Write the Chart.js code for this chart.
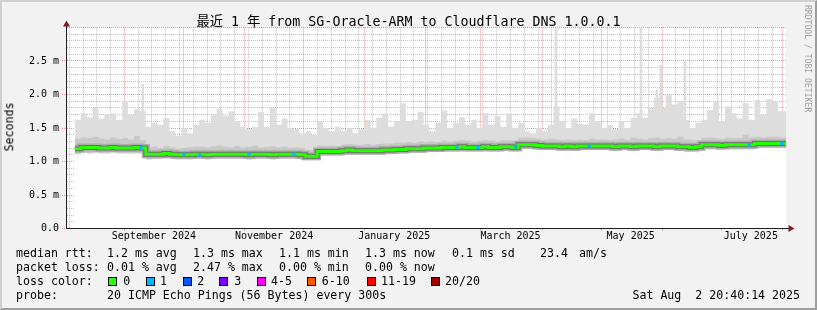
<!DOCTYPE html>
<html>
<head>
<meta charset="utf-8">
<script src="https://cdn.jsdelivr.net/npm/chart.js@4.4.1/dist/chart.umd.min.js"></script>
<style>
  html, body { margin: 0; padding: 0; background: #f2f2f2; }
  #wrap { position: relative; width: 817px; height: 310px; background: #f2f2f2; overflow: hidden;
          font-family: "DejaVu Sans Mono", monospace; color: #000; }
  #frame { position: absolute; left: 0; top: 0; width: 817px; height: 310px; box-sizing: border-box;
           border: 2px solid; border-color: #cfcfcf #9e9e9e #9e9e9e #cfcfcf; pointer-events: none; }
  canvas { position: absolute; left: 0; top: 0; }
  .t { position: absolute; white-space: pre; line-height: 1; font-size: 11.6px; }
  .box { position: absolute; top: 277px; width: 7px; height: 7px; border: 1px solid #000; }
  #title { position: absolute; left: 0; width: 817px; top: 14.8px; text-align: center; white-space: pre;
           font-size: 13.3px; line-height: 1; font-family: "DejaVu Sans Mono", "Noto Sans CJK SC", monospace; }
  #ylabel { position: absolute; left: 10px; top: 127px; font-size: 11.6px; line-height: 1; white-space: pre;
            transform: translate(-50%, -50%) rotate(-90deg); }
  #mark { position: absolute; left: 804px; top: 5px; font-size: 8.1px; line-height: 1; color: #a0a0a0;
          writing-mode: vertical-rl; white-space: pre; }
</style>
</head>
<body>
<div id="wrap">
  <canvas id="chart" width="817" height="310"></canvas>
  <div id="title">最近 1 年 from SG-Oracle-ARM to Cloudflare DNS 1.0.0.1</div>
  <div id="ylabel">Seconds</div>
  <div id="mark">RRDTOOL / TOBI OETIKER</div>
  <div id="legend"></div>
  <div id="frame"></div>
</div>
<script>
  // time axis: days after Sat Aug 2 2024 20:40:14 (one year window)
  var START = Date.UTC(2024, 7, 2, 20, 40, 14);
  var END = Date.UTC(2025, 7, 2, 20, 40, 14);
  var DAY = 86400000;

  // smoke data, one value per 3-day bin starting 4 days in (ms)
  var binStart = 4;
  var binWidth = 3;

  var maxRtt = [
    1.93, 1.62, 1.72, 1.66, 1.80, 1.64, 1.70, 1.72, 1.62, 1.90, 1.70, 1.78, 1.75,
    1.52, 1.58, 1.55, 1.65, 1.45, 1.38, 1.50, 1.42, 1.55, 1.62, 1.58, 1.70, 1.78, 1.68, 1.75, 1.60,
    1.52, 1.48, 1.52, 1.74, 1.52, 1.80, 1.55, 1.64, 1.50, 1.48, 1.42,
    1.45, 1.40, 1.60, 1.50, 1.45, 1.52, 1.45, 1.50, 1.42, 1.48, 1.62, 1.50, 1.65, 1.72, 1.52, 1.60,
    1.87, 1.60, 1.62, 1.74, 1.55, 1.45, 1.58, 1.76, 1.50, 1.58, 1.66, 1.55, 1.62, 1.50, 1.72, 1.55,
    1.68, 1.52, 1.72, 1.50, 1.58, 1.45, 1.42, 1.50, 1.45, 1.55, 1.82, 1.60, 1.50, 1.64, 1.56, 1.55,
    1.72, 1.60, 1.50, 1.55, 1.48, 1.60, 1.50, 1.65, 1.72, 1.65, 1.80, 1.95, 1.80, 1.99, 1.85, 1.90,
    1.62, 1.50, 1.58, 1.62, 1.77, 1.89, 1.60, 1.82, 1.72, 1.64, 1.87, 1.62, 1.92, 1.70, 1.93, 1.89, 1.75
  ];

  // narrow single-day peaks of the max ping (day, ms)
  var peakDays = [38.5, 248.2, 291.4, 299.5, 301.5, 313.7];
  var peakRtt = [2.15, 2.98, 3.00, 2.07, 2.44, 2.51];

  var upperRtt = [
    1.32, 1.34, 1.36, 1.35, 1.37, 1.34, 1.33, 1.36, 1.34, 1.35, 1.33, 1.38, 1.32,
    1.21, 1.22, 1.20, 1.23, 1.21, 1.19, 1.20, 1.21, 1.22, 1.22, 1.21, 1.23, 1.24, 1.22, 1.21, 1.23,
    1.21, 1.22, 1.24, 1.21, 1.22, 1.23, 1.21, 1.22, 1.20, 1.21, 1.20,
    1.17, 1.17,
    1.24, 1.23, 1.24, 1.23, 1.25,
    1.26, 1.25, 1.25, 1.26, 1.25, 1.26, 1.27, 1.27, 1.28,
    1.28, 1.29, 1.28, 1.30, 1.29, 1.30, 1.29,
    1.31, 1.30, 1.31, 1.32, 1.31, 1.30, 1.31, 1.32, 1.31, 1.30, 1.32, 1.32, 1.31,
    1.35, 1.36, 1.35, 1.34,
    1.33, 1.34, 1.33, 1.32, 1.33, 1.32, 1.33, 1.32, 1.34, 1.33,
    1.33, 1.32, 1.33, 1.34, 1.32, 1.36, 1.34, 1.33, 1.35, 1.36, 1.34, 1.35, 1.34, 1.37,
    1.33, 1.32, 1.32,
    1.35, 1.36, 1.35, 1.34, 1.36, 1.35, 1.35, 1.40, 1.36,
    1.37, 1.36, 1.37, 1.37, 1.36
  ];

  var medianRtt = [
    1.19, 1.19, 1.21, 1.21, 1.21, 1.20, 1.20, 1.21, 1.20, 1.20, 1.20, 1.21, 1.20,
    1.11, 1.11, 1.11, 1.12, 1.11, 1.10, 1.10, 1.10, 1.11, 1.11, 1.10, 1.11, 1.11, 1.11,
    1.11, 1.11, 1.11, 1.10, 1.11, 1.11, 1.11, 1.10, 1.11, 1.11, 1.11, 1.11, 1.10,
    1.08, 1.08,
    1.15, 1.15, 1.15, 1.15, 1.16,
    1.17, 1.16, 1.16, 1.16, 1.16, 1.16, 1.17, 1.17, 1.18,
    1.18, 1.19, 1.19, 1.19, 1.20, 1.20, 1.20,
    1.21, 1.21, 1.21, 1.22, 1.21, 1.21, 1.21, 1.22, 1.21, 1.21, 1.22, 1.22, 1.21,
    1.25, 1.25, 1.25, 1.24,
    1.23, 1.23, 1.23, 1.22, 1.23, 1.22, 1.23, 1.23, 1.23, 1.23,
    1.23, 1.23, 1.22, 1.23, 1.23, 1.22, 1.23, 1.23, 1.23, 1.22, 1.23, 1.23, 1.23, 1.22,
    1.22, 1.21, 1.22,
    1.25, 1.25, 1.25, 1.24, 1.25, 1.25, 1.25, 1.25, 1.25,
    1.27, 1.27, 1.27, 1.27, 1.27
  ];

  var minRtt = [
    1.11, 1.11, 1.13, 1.12, 1.13, 1.12, 1.12, 1.13, 1.12, 1.12, 1.12, 1.12, 1.12,
    1.03, 1.04, 1.04, 1.05, 1.04, 1.03, 1.03, 1.03, 1.04, 1.04, 1.03, 1.04, 1.04, 1.04,
    1.04, 1.04, 1.04, 1.03, 1.04, 1.04, 1.04, 1.03, 1.04, 1.04, 1.04, 1.04, 1.03,
    1.02, 1.02,
    1.09, 1.09, 1.09, 1.09, 1.10,
    1.11, 1.10, 1.10, 1.10, 1.10, 1.10, 1.11, 1.11, 1.12,
    1.12, 1.13, 1.13, 1.13, 1.14, 1.14, 1.14,
    1.15, 1.15, 1.15, 1.16, 1.15, 1.15, 1.15, 1.16, 1.15, 1.15, 1.16, 1.16, 1.15,
    1.18, 1.19, 1.19, 1.18,
    1.17, 1.17, 1.17, 1.16, 1.17, 1.16, 1.17, 1.17, 1.17, 1.17,
    1.17, 1.17, 1.16, 1.17, 1.17, 1.16, 1.17, 1.17, 1.17, 1.16, 1.17, 1.17, 1.17, 1.16,
    1.15, 1.15, 1.16,
    1.18, 1.18, 1.18, 1.17, 1.18, 1.18, 1.18, 1.18, 1.18,
    1.20, 1.20, 1.20, 1.20, 1.20
  ];

  // samples with 1/20 loss (blue), day and median rtt
  var lossDays = [37.5, 59.4, 67.5, 92.4, 115.2, 198.0, 208.6, 227.9, 265.0, 346.2, 362.9];
  var lossRtt = [1.21, 1.11, 1.10, 1.11, 1.11, 1.22, 1.21, 1.22, 1.23, 1.25, 1.27];

  // axis labels
  var monthLabels = [
    [2024, 8, "September 2024"], [2024, 10, "November 2024"], [2025, 0, "January 2025"],
    [2025, 2, "March 2025"], [2025, 4, "May 2025"], [2025, 6, "July 2025"]
  ];
  var yMajor = [0, 0.5, 1.0, 1.5, 2.0, 2.5];
  var yMajorLabels = ["0.0", "0.5 m", "1.0 m", "1.5 m", "2.0 m", "2.5 m"];

  // legend
  var lossColors = ["#26ff00", "#00b8ff", "#0059ff", "#7e00ff", "#ff00ff", "#ff5500", "#ff0000", "#a10000"];
  var lossNames = ["0", "1", "2", "3", "4-5", "6-10", "11-19", "20/20"];
  var lossBoxX = [108, 145.7, 182.7, 219, 256.7, 306.7, 366.7, 430.7];
  var lossTextX = [123.3, 160, 197.3, 234.3, 271, 321.7, 381, 445];
  var legendRows = [
    [248.2, [[16, "median rtt:"], [107, "1.2 ms avg"], [193, "1.3 ms max"], [279, "1.1 ms min"],
             [365, "1.3 ms now"], [452, "0.1 ms sd"], [540, "23.4"], [579, "am/s"]]],
    [262.2, [[16, "packet loss:"], [107, "0.01 % avg"], [193, "2.47 % max"], [279, "0.00 % min"],
             [365, "0.00 % now"]]],
    [276.2, [[16, "loss color:"]]],
    [290.2, [[16, "probe:"], [107, "20 ICMP Echo Pings (56 Bytes) every 300s"]]]
  ];
  var stamp = "Sat Aug  2 20:40:14 2025";

  function dayOf(y, m, d) { return (Date.UTC(y, m, d) - START) / DAY; }
  var lastDay = (END - START) / DAY;

  function series(arr) {
    var pts = arr.map(function (v, i) { return { x: binStart + i * binWidth, y: v }; });
    pts.push({ x: lastDay, y: arr[arr.length - 1] });
    return pts;
  }

  // x ticks: sundays (minor), month starts (major), label positions
  var xTicks = [];
  var months = [];
  for (var k = 0; k < 12; k++) months.push(dayOf(2024, 8 + k, 1));
  months.forEach(function (d) { xTicks.push({ value: d, kind: "m", label: "" }); });
  for (var s = dayOf(2024, 7, 4); s < lastDay; s += 7) {
    var near = months.some(function (m) { return Math.abs(m - s) < 0.5; });
    if (!near) xTicks.push({ value: s, kind: "w", label: "" });
  }
  monthLabels.forEach(function (ml) {
    xTicks.push({ value: dayOf(ml[0], ml[1], 1) + 15, kind: "l", label: ml[2] });
  });
  xTicks.sort(function (a, b) { return a.value - b.value; });

  var GRID = "rgba(143,143,143,0.55)";
  var MGRID = "rgba(222,79,79,0.6)";
  var NONE = "rgba(0,0,0,0)";

  function yIsMajor(v) { return Math.round(v * 10) % 5 === 0; }

  var frame = {
    id: "frame",
    beforeDraw: function (chart) {
      var a = chart.chartArea, c = chart.ctx;
      c.save();
      c.fillStyle = "#ffffff";
      c.fillRect(a.left, a.top, a.right - a.left, a.bottom - a.top);
      c.restore();
    },
    afterDraw: function (chart) {
      var c = chart.ctx;
      c.save();
      c.strokeStyle = "#1f1f1f";
      c.lineWidth = 1;
      c.beginPath();
      c.moveTo(66.5, 228.5); c.lineTo(66.5, 25);
      c.moveTo(66, 228.5); c.lineTo(790, 228.5);
      c.stroke();
      c.fillStyle = "#801f1f";
      c.beginPath();
      c.moveTo(66.5, 20.5); c.lineTo(63, 26.5); c.lineTo(70, 26.5); c.closePath();
      c.fill();
      c.beginPath();
      c.moveTo(794.5, 228.5); c.lineTo(788.5, 225); c.lineTo(788.5, 232); c.closePath();
      c.fill();
      c.restore();
    }
  };

  function stepLine(label, arr, color, width) {
    return {
      label: label, data: series(arr), stepped: "after",
      borderColor: color, borderWidth: width, pointRadius: 0, fill: false
    };
  }
  function stepArea(label, arr, color) {
    return {
      label: label, data: series(arr), stepped: "after",
      borderWidth: 0, pointRadius: 0, backgroundColor: color, fill: "origin"
    };
  }

  new Chart(document.getElementById("chart").getContext("2d"), {
    type: "line",
    data: {
      datasets: [
        {
          label: "loss 1",
          data: lossDays.map(function (d, i) { return { x: d, y: lossRtt[i] }; }),
          showLine: false,
          pointStyle: "rect",
          pointRadius: 2.3,
          pointBackgroundColor: "#00b8ff",
          pointBorderWidth: 0
        },
        stepLine("median", medianRtt, "#26ff00", 3),
        stepLine("median core", medianRtt, "#6e6e6e", 5),
        stepLine("median halo", medianRtt, "#acacac", 8),
        stepArea("min", minRtt, "#ffffff"),
        stepArea("upper", upperRtt, "#c8c8c8"),
        stepArea("max", maxRtt, "#dddddd"),
        {
          type: "bar",
          label: "peaks",
          data: peakDays.map(function (d, i) { return { x: d, y: peakRtt[i] }; }),
          backgroundColor: "#dddddd",
          borderWidth: 0,
          barThickness: 2
        }
      ]
    },
    options: {
      responsive: false,
      animation: false,
      events: [],
      layout: { padding: { top: 27.5, right: 31, left: 0, bottom: 0 } },
      plugins: { legend: { display: false }, tooltip: { enabled: false }, title: { display: false } },
      scales: {
        x: {
          type: "linear",
          min: 0,
          max: lastDay,
          offset: false,
          z: 1,
          afterFit: function (scale) { scale.height = 310 - 228.5; },
          afterBuildTicks: function (scale) {
            scale.ticks = xTicks.map(function (t) { return { value: t.value }; });
          },
          grid: {
            offset: false,
            color: function (ctx) {
              var t = xTicks[ctx.index];
              if (!t) return NONE;
              return t.kind === "m" ? MGRID : t.kind === "w" ? GRID : NONE;
            },
            tickColor: function (ctx) {
              var t = xTicks[ctx.index];
              return t && t.kind === "m" ? MGRID : NONE;
            },
            tickLength: 2,
            lineWidth: 1
          },
          border: { display: false, dash: [1, 1] },
          ticks: {
            autoSkip: false,
            maxRotation: 0,
            minRotation: 0,
            padding: 0,
            color: "#000",
            font: { family: "'DejaVu Sans Mono'", size: 10 },
            callback: function (v, i) { return xTicks[i] ? xTicks[i].label : ""; }
          }
        },
        y: {
          type: "linear",
          min: 0,
          max: 3,
          z: 1,
          afterFit: function (scale) { scale.width = 67; },
          grid: {
            color: function (ctx) { return yIsMajor(ctx.tick.value) ? MGRID : GRID; },
            tickColor: function (ctx) {
              var v = ctx.tick.value;
              return yIsMajor(v) && v < 2.9 ? MGRID : NONE;
            },
            tickLength: 5,
            tickBorderDash: [1, 1],
            lineWidth: 1
          },
          border: { display: false, dash: [1, 1] },
          ticks: {
            stepSize: 0.1,
            autoSkip: false,
            padding: 3,
            color: "#000",
            font: { family: "'DejaVu Sans Mono'", size: 10 },
            callback: function (v) {
              for (var i = 0; i < yMajor.length; i++) {
                if (Math.abs(yMajor[i] - v) < 1e-6) return yMajorLabels[i];
              }
              return "";
            }
          }
        }
      }
    },
    plugins: [frame]
  });

  // text legend below the graph
  var legend = document.getElementById("legend");
  function addText(x, y, str) {
    var el = document.createElement("div");
    el.className = "t";
    el.style.left = x + "px";
    el.style.top = y + "px";
    el.textContent = str;
    legend.appendChild(el);
    return el;
  }
  legendRows.forEach(function (row) {
    row[1].forEach(function (item) { addText(item[0], row[0], item[1]); });
  });
  lossNames.forEach(function (name, i) {
    var b = document.createElement("div");
    b.className = "box";
    b.style.left = lossBoxX[i] + "px";
    b.style.background = lossColors[i];
    legend.appendChild(b);
    addText(lossTextX[i], 276.2, name);
  });
  var st = addText(0, 290.2, stamp);
  st.style.left = "auto";
  st.style.right = "17px";
</script>
</body>
</html>
